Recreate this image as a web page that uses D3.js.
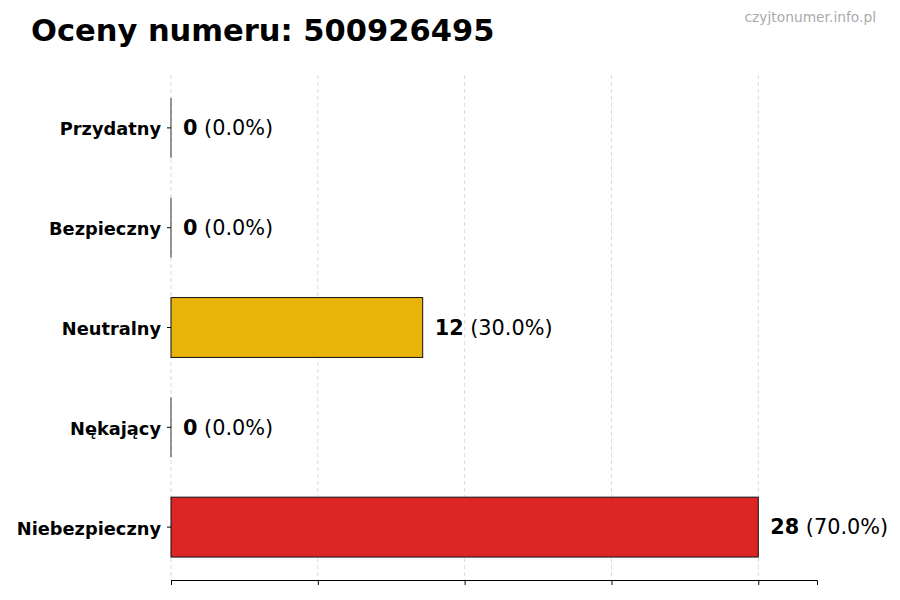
<!DOCTYPE html>
<html>
<head>
<meta charset="utf-8">
<script src="https://cdn.jsdelivr.net/npm/d3@7"></script>
<style>
  body { margin: 0; background: #fff; }
  text { font-family: "DejaVu Sans", sans-serif; }
</style>
</head>
<body>
<div id="chart"></div>
<script>
var categories = ["Przydatny", "Bezpieczny", "Neutralny", "Nękający", "Niebezpieczny"];
var counts = [0, 0, 12, 0, 28];
var percents = ["0.0%", "0.0%", "30.0%", "0.0%", "70.0%"];
var colors = ["#2e9e44", "#4a8fd6", "#e8b40a", "#e07020", "#dc2626"];
var xTicks = [0, 7, 14, 21, 28];

var width = 900, height = 600;
var margin = {top: 75, right: 83, bottom: 20, left: 171};

var svg = d3.select("#chart").append("svg")
  .attr("width", width)
  .attr("height", height);

var x = d3.scaleLinear()
  .domain([0, d3.max(counts) * 1.1])
  .range([margin.left, width - margin.right]);

var y = d3.scaleBand()
  .domain(categories)
  .range([margin.top, height - margin.bottom])
  .paddingInner(0.4)
  .paddingOuter(0.23);

// grid
svg.append("g").selectAll("line")
  .data(xTicks)
  .enter().append("line")
  .attr("x1", function(d) { return x(d); })
  .attr("x2", function(d) { return x(d); })
  .attr("y1", margin.top)
  .attr("y2", height - margin.bottom)
  .attr("stroke", "#d0d0d0")
  .attr("stroke-width", 0.8)
  .attr("stroke-dasharray", "4,3");

// bars
svg.append("g").selectAll("rect")
  .data(categories)
  .enter().append("rect")
  .attr("x", x(0))
  .attr("y", function(d) { return y(d); })
  .attr("width", function(d, i) { return x(counts[i]) - x(0); })
  .attr("height", y.bandwidth())
  .attr("fill", function(d, i) { return colors[i]; })
  .attr("stroke", "#111")
  .attr("stroke-width", 1);

// zero-width bars still show their edge
svg.append("g").selectAll("line")
  .data(categories.filter(function(d, i) { return counts[i] === 0; }))
  .enter().append("line")
  .attr("x1", x(0)).attr("x2", x(0))
  .attr("y1", function(d) { return y(d); })
  .attr("y2", function(d) { return y(d) + y.bandwidth(); })
  .attr("stroke", "#333")
  .attr("stroke-width", 1);

// x axis
var xAxis = d3.axisBottom(x).tickValues(xTicks).tickFormat("").tickSizeOuter(0).tickSize(5);
var gx = svg.append("g")
  .attr("transform", "translate(0," + (height - margin.bottom) + ")")
  .call(xAxis);
gx.select(".domain").attr("stroke", "#000").attr("stroke-width", 1);
gx.selectAll(".tick line").attr("stroke", "#000");

// y axis
var yAxis = d3.axisLeft(y).tickSize(4).tickPadding(6);
var gy = svg.append("g")
  .attr("transform", "translate(" + margin.left + ",0)")
  .call(yAxis);
gy.select(".domain").remove();
gy.selectAll(".tick line").attr("stroke", "#000");
gy.selectAll(".tick text")
  .attr("font-family", "DejaVu Sans, sans-serif")
  .attr("font-size", 17.8)
  .attr("font-weight", "bold")
  .attr("fill", "#000")
  .attr("dy", "0.42em");

// value labels
var labels = svg.append("g").selectAll("text")
  .data(categories)
  .enter().append("text")
  .attr("x", function(d, i) { return x(counts[i]) + 12; })
  .attr("y", function(d) { return y(d) + y.bandwidth() / 2; })
  .attr("dy", "0.35em")
  .attr("font-size", 20.8)
  .attr("fill", "#000");
labels.append("tspan")
  .attr("font-weight", "bold")
  .text(function(d, i) { return counts[i]; });
labels.append("tspan")
  .text(function(d, i) { return " (" + percents[i] + ")"; });

// title
svg.append("text")
  .attr("x", 31)
  .attr("y", 41)
  .attr("font-size", 30.5)
  .attr("font-weight", "bold")
  .attr("fill", "#000")
  .text("Oceny numeru: 500926495");

svg.append("text")
  .attr("x", 876)
  .attr("y", 22)
  .attr("text-anchor", "end")
  .attr("font-size", 13.8)
  .attr("fill", "#aaa")
  .text("czyjtonumer.info.pl");
</script>
</body>
</html>
